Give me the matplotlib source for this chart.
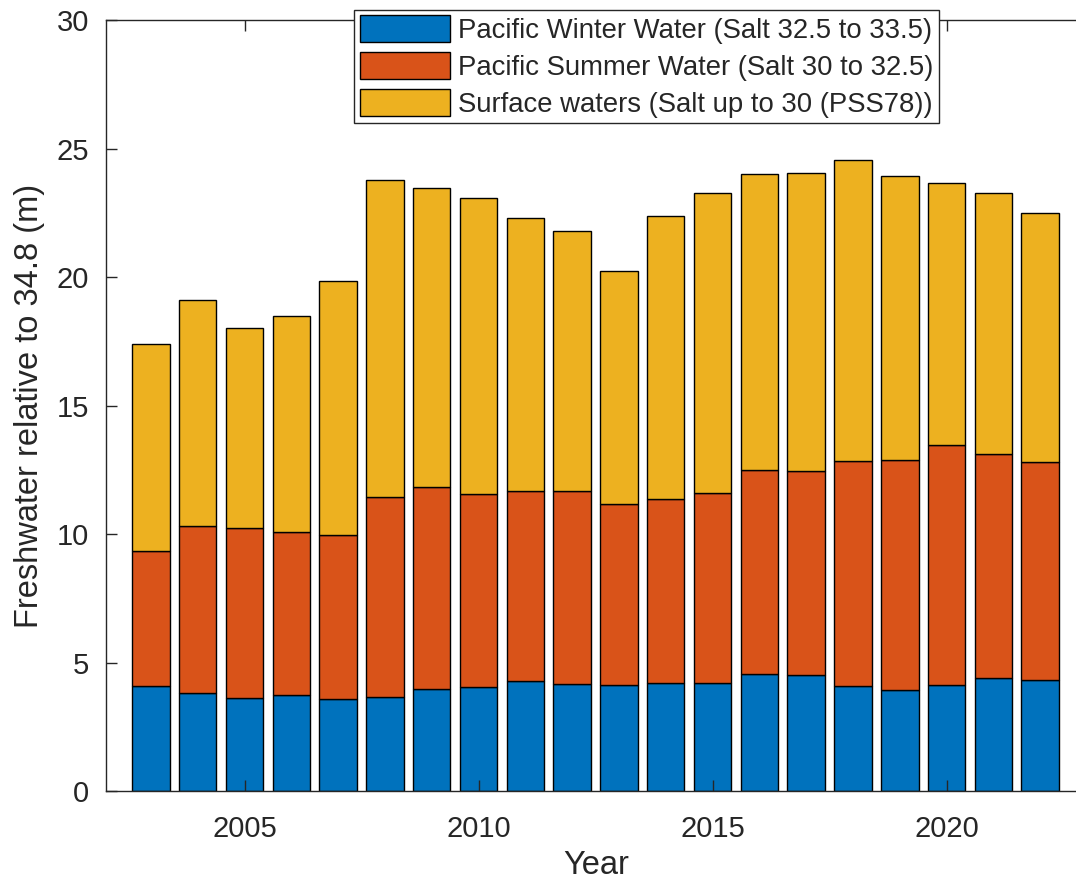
import numpy as np
import matplotlib
matplotlib.use('Agg')
import matplotlib.pyplot as plt

plt.rcParams['font.family'] = ['Liberation Sans', 'DejaVu Sans']

# years and stacked freshwater components (m)
years = np.arange(2003, 2023)
winter = [4.10, 3.81, 3.63, 3.75, 3.58, 3.65, 3.98, 4.05, 4.27, 4.16,
          4.11, 4.21, 4.21, 4.55, 4.50, 4.10, 3.93, 4.11, 4.39, 4.33]
summer_top = [9.34, 10.30, 10.23, 10.08, 9.97, 11.44, 11.83, 11.56, 11.67, 11.66,
              11.16, 11.36, 11.61, 12.50, 12.45, 12.84, 12.89, 13.46, 13.12, 12.79]
total = [17.40, 19.09, 18.02, 18.48, 19.83, 23.76, 23.47, 23.09, 22.30, 21.80,
         20.22, 22.36, 23.27, 24.00, 24.05, 24.55, 23.93, 23.66, 23.27, 22.48]

labels = ['Pacific Winter Water (Salt 32.5 to 33.5)',
          'Pacific Summer Water (Salt 30 to 32.5)',
          'Surface waters (Salt up to 30 (PSS78))']
colors = ['#0072BD', '#D95319', '#EDB120']

winter = np.array(winter)
summer = np.array(summer_top) - winter
surface = np.array(total) - np.array(summer_top)

fig = plt.figure(figsize=(10.76, 8.84), dpi=100)
# right spine sits just past the cropped edge, like the original
ax = fig.add_axes([106/1076, 1-791/884, 981/1076, (791-20)/884])

txt = '#262626'
b1 = ax.bar(years, winter, 0.8, color=colors[0], edgecolor='black', linewidth=1.0, label=labels[0])
b2 = ax.bar(years, summer, 0.8, bottom=winter, color=colors[1], edgecolor='black', linewidth=1.0, label=labels[1])
b3 = ax.bar(years, surface, 0.8, bottom=winter+summer, color=colors[2], edgecolor='black', linewidth=1.0, label=labels[2])

ax.set_xlim(2002.04, 2023)
ax.set_ylim(0, 30)
ax.set_xticks([2005, 2010, 2015, 2020])
ax.set_yticks([0, 5, 10, 15, 20, 25, 30])
ax.tick_params(direction='in', length=8, width=1, top=True, right=True,
               labelsize=21, colors=txt)
ax.tick_params(axis='x', pad=17)
ax.tick_params(axis='y', pad=12)
for s in ax.spines.values():
    s.set_color(txt)
    s.set_linewidth(1)

ax.set_xlabel('Year', fontsize=23.5, color=txt)
ax.xaxis.set_label_coords((596-106)/981, -(850-791)/771)
ax.set_ylabel('Freshwater relative to 34.8 (m)', fontsize=23.5, color=txt)
ax.yaxis.set_label_coords(-(106-45)/981, 0.5)

leg = fig.legend(handles=[b1, b2, b3], labels=labels, loc='upper left',
                 bbox_to_anchor=(354/1076, 1-10/884), borderaxespad=0,
                 fontsize=19.8, fancybox=False, framealpha=1, edgecolor=txt,
                 handlelength=3.3, handleheight=1.1, handletextpad=0.3,
                 labelspacing=0.3, borderpad=0.2)
leg.get_frame().set_linewidth(1)
for t in leg.get_texts():
    t.set_color(txt)

fig.savefig('out.png', dpi=100)
